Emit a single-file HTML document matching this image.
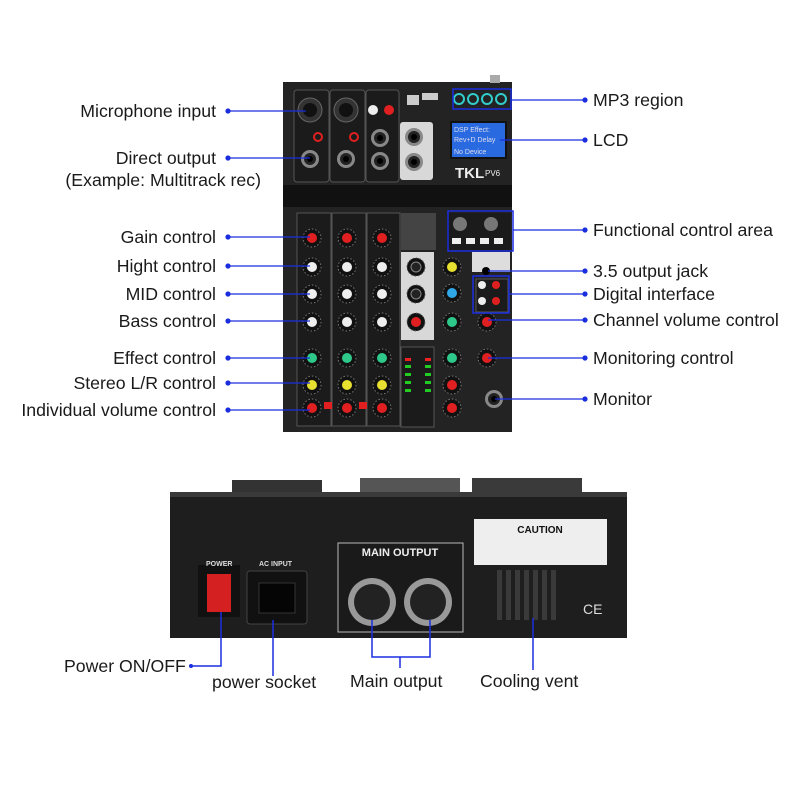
<!DOCTYPE html>
<html><head><meta charset="utf-8"><style>
html,body{margin:0;padding:0;background:#fff}
svg{display:block}
text{font-family:"Liberation Sans",sans-serif}
.l{font-size:17.7px;fill:#1a1a1a}
</style></head><body>
<svg width="800" height="800" viewBox="0 0 800 800" xmlns="http://www.w3.org/2000/svg">
<defs>
<g id="kw"><circle r="9" fill="#111" stroke="#777" stroke-width="1" stroke-dasharray="1.5 2"/><circle r="5" fill="#eee"/></g>
<g id="kr"><circle r="9" fill="#111" stroke="#777" stroke-width="1" stroke-dasharray="1.5 2"/><circle r="5" fill="#e02020"/></g>
<g id="kg"><circle r="9" fill="#111" stroke="#777" stroke-width="1" stroke-dasharray="1.5 2"/><circle r="5" fill="#2ec98a"/></g>
<g id="ky"><circle r="9" fill="#111" stroke="#777" stroke-width="1" stroke-dasharray="1.5 2"/><circle r="5" fill="#e8e030"/></g>
<g id="kb"><circle r="9" fill="#111" stroke="#777" stroke-width="1" stroke-dasharray="1.5 2"/><circle r="5" fill="#30a8e8"/></g>
<g id="kd"><circle r="9" fill="#111" stroke="#555" stroke-width="1" stroke-dasharray="1.5 2"/><circle r="5" fill="#222" stroke="#888"/></g>
<g id="jack"><circle r="9" fill="#888"/><circle r="6" fill="#222"/><circle r="3" fill="#000"/></g>
</defs>
<rect x="283" y="82" width="229" height="350" fill="#232323"/>
<rect x="283" y="185" width="229" height="22" fill="#111"/>
<rect x="490" y="75" width="10" height="8" fill="#aaa"/>
<rect x="294" y="90" width="35" height="92" rx="3" fill="#1b1b1b" stroke="#555"/>
<rect x="330" y="90" width="35" height="92" rx="3" fill="#1b1b1b" stroke="#555"/>
<rect x="366" y="90" width="33" height="92" rx="3" fill="#1b1b1b" stroke="#555"/>
<rect x="400" y="122" width="33" height="58" rx="3" fill="#d8d8d8"/>
<circle cx="310" cy="110" r="12" fill="#333" stroke="#666"/><circle cx="310" cy="110" r="7" fill="#111"/>
<circle cx="346" cy="110" r="12" fill="#333" stroke="#666"/><circle cx="346" cy="110" r="7" fill="#111"/>
<circle cx="318" cy="137" r="4" fill="none" stroke="#e02020" stroke-width="2"/><circle cx="354" cy="137" r="4" fill="none" stroke="#e02020" stroke-width="2"/>
<use href="#jack" x="310" y="159"/><use href="#jack" x="346" y="159"/>
<circle cx="373" cy="110" r="5" fill="#eee"/><circle cx="389" cy="110" r="5" fill="#e02020"/>
<use href="#jack" x="380" y="138"/><use href="#jack" x="380" y="161"/>
<use href="#jack" x="414" y="137"/><use href="#jack" x="414" y="162"/>
<rect x="407" y="95" width="12" height="10" fill="#ccc"/><rect x="422" y="93" width="16" height="7" fill="#ccc"/>
<circle cx="459" cy="99" r="5" fill="none" stroke="#3cc" stroke-width="2"/><circle cx="473" cy="99" r="5" fill="none" stroke="#3cc" stroke-width="2"/><circle cx="487" cy="99" r="5" fill="none" stroke="#3cc" stroke-width="2"/><circle cx="501" cy="99" r="5" fill="none" stroke="#3cc" stroke-width="2"/>
<rect x="451" y="122" width="55" height="36" fill="#2a6ae0" stroke="#111" stroke-width="2"/>
<text x="454" y="132" font-size="7" fill="#dde">DSP Effect:</text><text x="454" y="142" font-size="7" fill="#dde">Rev+D Delay</text><text x="454" y="154" font-size="7" fill="#dde">No Device</text>
<text x="455" y="178" font-size="15" font-weight="bold" fill="#eee">TKL</text><text x="485" y="176" font-size="8" fill="#eee">PV6</text>
<rect x="297" y="213" width="34" height="213" fill="#1b1b1b" stroke="#555"/>
<rect x="332" y="213" width="34" height="213" fill="#1b1b1b" stroke="#555"/>
<rect x="367" y="213" width="33" height="213" fill="#1b1b1b" stroke="#555"/>
<rect x="401" y="213" width="35" height="37" fill="#444"/>
<rect x="401" y="252" width="33" height="88" fill="#d8d8d8"/>
<rect x="401" y="347" width="33" height="80" fill="#1b1b1b" stroke="#555"/>
<rect x="447" y="213" width="64" height="37" fill="#1b1b1b"/>
<rect x="472" y="252" width="38" height="20" fill="#ddd"/>
<circle cx="486" cy="271" r="4" fill="#000"/>
<rect x="476" y="279" width="32" height="33" fill="#1b1b1b" stroke="#555"/>
<circle cx="482" cy="285" r="4" fill="#eee"/><circle cx="496" cy="285" r="4" fill="#e02020"/><circle cx="482" cy="301" r="4" fill="#eee"/><circle cx="496" cy="301" r="4" fill="#e02020"/>
<circle cx="460" cy="224" r="7" fill="#777"/><circle cx="491" cy="224" r="7" fill="#777"/>
<rect x="452" y="238" width="9" height="6" fill="#eee"/><rect x="466" y="238" width="9" height="6" fill="#eee"/><rect x="480" y="238" width="9" height="6" fill="#eee"/><rect x="494" y="238" width="9" height="6" fill="#eee"/>
<use href="#kr" x="312" y="238"/><use href="#kr" x="347" y="238"/><use href="#kr" x="382" y="238"/>
<use href="#kw" x="312" y="267"/><use href="#kw" x="347" y="267"/><use href="#kw" x="382" y="267"/>
<use href="#kw" x="312" y="294"/><use href="#kw" x="347" y="294"/><use href="#kw" x="382" y="294"/>
<use href="#kw" x="312" y="322"/><use href="#kw" x="347" y="322"/><use href="#kw" x="382" y="322"/>
<use href="#kg" x="312" y="358"/><use href="#kg" x="347" y="358"/><use href="#kg" x="382" y="358"/>
<use href="#ky" x="312" y="385"/><use href="#ky" x="347" y="385"/><use href="#ky" x="382" y="385"/>
<use href="#kr" x="312" y="408"/><use href="#kr" x="347" y="408"/><use href="#kr" x="382" y="408"/>
<rect x="324" y="402" width="8" height="7" fill="#e02020"/><rect x="359" y="402" width="8" height="7" fill="#e02020"/>
<use href="#kd" x="416" y="267"/><use href="#kd" x="416" y="294"/><use href="#kr" x="416" y="322"/>
<use href="#ky" x="452" y="267"/><use href="#kb" x="452" y="293"/><use href="#kg" x="452" y="322"/>
<use href="#kg" x="452" y="358"/><use href="#kr" x="452" y="385"/><use href="#kr" x="452" y="408"/>
<use href="#kr" x="487" y="322"/><use href="#kr" x="487" y="358"/>
<use href="#jack" x="494" y="399"/>
<g fill="#2c2"><rect x="405" y="365" width="6" height="3"/><rect x="425" y="365" width="6" height="3"/><rect x="405" y="373" width="6" height="3"/><rect x="425" y="373" width="6" height="3"/><rect x="405" y="381" width="6" height="3"/><rect x="425" y="381" width="6" height="3"/><rect x="405" y="389" width="6" height="3"/><rect x="425" y="389" width="6" height="3"/></g>
<rect x="405" y="358" width="6" height="3" fill="#e22"/><rect x="425" y="358" width="6" height="3" fill="#e22"/>
<g fill="none" stroke="#1a2ee0" stroke-width="1.5">
<rect x="453" y="89" width="58" height="20"/>
<rect x="448" y="211" width="65" height="40"/>
<rect x="473" y="276" width="36" height="37"/>
</g>
<g stroke="#1a2ee0" stroke-width="1.2" fill="#1a2ee0">
<line x1="228" y1="111" x2="306" y2="111"/><circle cx="228" cy="111" r="2"/>
<line x1="228" y1="158" x2="310" y2="158"/><circle cx="228" cy="158" r="2"/>
<line x1="228" y1="237" x2="310" y2="237"/><circle cx="228" cy="237" r="2"/>
<line x1="228" y1="266" x2="310" y2="266"/><circle cx="228" cy="266" r="2"/>
<line x1="228" y1="294" x2="310" y2="294"/><circle cx="228" cy="294" r="2"/>
<line x1="228" y1="321" x2="310" y2="321"/><circle cx="228" cy="321" r="2"/>
<line x1="228" y1="358" x2="310" y2="358"/><circle cx="228" cy="358" r="2"/>
<line x1="228" y1="383" x2="310" y2="383"/><circle cx="228" cy="383" r="2"/>
<line x1="228" y1="410" x2="310" y2="410"/><circle cx="228" cy="410" r="2"/>
<line x1="511" y1="100" x2="585" y2="100"/><circle cx="585" cy="100" r="2"/>
<line x1="500" y1="140" x2="585" y2="140"/><circle cx="585" cy="140" r="2"/>
<line x1="513" y1="230" x2="585" y2="230"/><circle cx="585" cy="230" r="2"/>
<line x1="488" y1="271" x2="585" y2="271"/><circle cx="585" cy="271" r="2"/>
<line x1="509" y1="294" x2="585" y2="294"/><circle cx="585" cy="294" r="2"/>
<line x1="488" y1="320" x2="585" y2="320"/><circle cx="585" cy="320" r="2"/>
<line x1="488" y1="358" x2="585" y2="358"/><circle cx="585" cy="358" r="2"/>
<line x1="495" y1="399" x2="585" y2="399"/><circle cx="585" cy="399" r="2"/>
</g>
<g class="l" text-anchor="end">
<text x="216" y="117">Microphone input</text>
<text x="216" y="164">Direct output</text>
<text x="261" y="186">(Example: Multitrack rec)</text>
<text x="216" y="243">Gain control</text>
<text x="216" y="272">Hight control</text>
<text x="216" y="300">MID control</text>
<text x="216" y="327">Bass control</text>
<text x="216" y="364">Effect control</text>
<text x="216" y="389">Stereo L/R control</text>
<text x="216" y="416">Individual volume control</text>
</g>
<g class="l">
<text x="593" y="106">MP3 region</text>
<text x="593" y="146">LCD</text>
<text x="593" y="236">Functional control area</text>
<text x="593" y="277">3.5 output jack</text>
<text x="593" y="300">Digital interface</text>
<text x="593" y="326">Channel volume control</text>
<text x="593" y="364">Monitoring control</text>
<text x="593" y="405">Monitor</text>
</g>
<rect x="232" y="480" width="90" height="15" fill="#333"/><rect x="360" y="478" width="100" height="17" fill="#555"/><rect x="472" y="478" width="110" height="17" fill="#3a3a3a"/>
<rect x="170" y="492" width="457" height="146" fill="#1e1e1e"/>
<rect x="170" y="492" width="457" height="5" fill="#3a3a3a"/>
<rect x="198" y="565" width="42" height="52" fill="#111"/>
<rect x="207" y="574" width="24" height="38" fill="#d42020"/>
<text x="206" y="566" font-size="7" font-weight="bold" fill="#ddd">POWER</text>
<text x="259" y="566" font-size="7" font-weight="bold" fill="#ddd">AC INPUT</text>
<rect x="247" y="571" width="60" height="53" rx="3" fill="#111" stroke="#444"/>
<rect x="259" y="583" width="36" height="30" fill="#050505" stroke="#333"/>
<rect x="338" y="543" width="125" height="89" fill="#1a1a1a" stroke="#bbb"/>
<text x="400" y="556" font-size="11" font-weight="bold" fill="#eee" text-anchor="middle">MAIN OUTPUT</text>
<circle cx="372" cy="602" r="24" fill="#999"/><circle cx="372" cy="602" r="18" fill="#222"/>
<circle cx="428" cy="602" r="24" fill="#999"/><circle cx="428" cy="602" r="18" fill="#222"/>
<rect x="474" y="519" width="133" height="46" fill="#eee"/>
<text x="540" y="533" font-size="10" font-weight="bold" fill="#111" text-anchor="middle">CAUTION</text>
<g fill="#3a3a3a"><rect x="497" y="570" width="5" height="50"/><rect x="506" y="570" width="5" height="50"/><rect x="515" y="570" width="5" height="50"/><rect x="524" y="570" width="5" height="50"/><rect x="533" y="570" width="5" height="50"/><rect x="542" y="570" width="5" height="50"/><rect x="551" y="570" width="5" height="50"/></g>
<text x="583" y="614" font-size="14" fill="#ddd">CE</text>
<g stroke="#1a2ee0" stroke-width="1.5" fill="none">
<polyline points="191,666 221,666 221,612"/>
<line x1="273" y1="620" x2="273" y2="676"/>
<polyline points="372,620 372,657 430,657 430,620"/>
<line x1="400" y1="657" x2="400" y2="668"/>
<line x1="533" y1="618" x2="533" y2="670"/>
</g>
<circle cx="191" cy="666" r="2" fill="#1a2ee0"/>
<g class="l">
<text x="64" y="672">Power ON/OFF</text>
<text x="212" y="688">power socket</text>
<text x="350" y="687">Main output</text>
<text x="480" y="687">Cooling vent</text>
</g>
</svg>
</body></html>
